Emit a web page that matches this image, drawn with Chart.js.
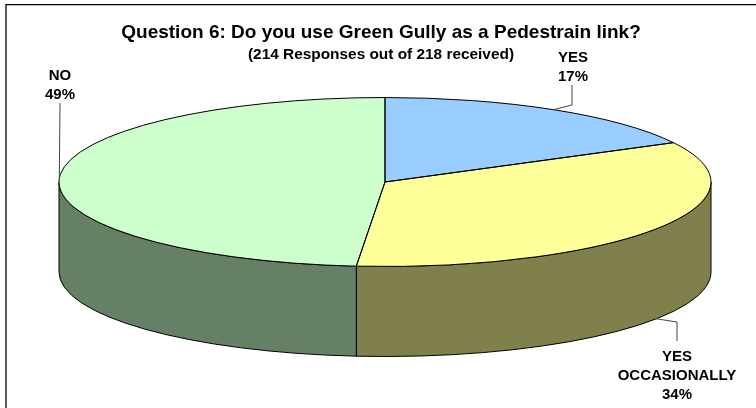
<!DOCTYPE html>
<html>
<head>
<meta charset="utf-8">
<title>Question 6</title>
<script src="https://cdn.jsdelivr.net/npm/chart.js@4"></script>
<style>
    html, body { margin: 0; padding: 0; background: #fff; }
    canvas { display: block; }
</style>
</head>
<body>
<canvas id="pieChart" width="756" height="408"></canvas>
<script>
const categories = ["YES", "YES OCCASIONALLY", "NO"];
const responses = [37, 73, 104];
const topColors = ["#99CCFF", "#FFFF99", "#CCFFCC"];
const wallColors = ["#4D6680", "#80804D", "#668066"];
const titleText = "Question 6: Do you use Green Gully as a Pedestrain link?";
const subtitleText = "(214 Responses out of 218 received)";

// label lines per slice, and the bend of each leader line
const labelLines = [["YES"], ["YES", "OCCASIONALLY"], ["NO"]];
const labelCenters = [[573, 58], [677, 357], [60, 76]];
const leaderBends = [[[572, 105], [572, 85]], [[677, 322], [677, 341]], [[60, 103]]];

// the flattened pie on the page
const ellipse = { x: 385, y: 182, rx: 326, ry: 84.5, depth: 90 };

function edgePoint(angle, drop) {
    return [
        ellipse.x + ellipse.rx * Math.cos(angle),
        ellipse.y + ellipse.ry * Math.sin(angle) + drop
    ];
}

const flatPie = {
    id: "flatPie",
    beforeDraw(chart) {
        // only the top and left sides of the frame show in the picture
        const ctx = chart.ctx;
        ctx.save();
        ctx.strokeStyle = "#000";
        ctx.lineWidth = 1.3;
        ctx.beginPath();
        ctx.moveTo(6, 408);
        ctx.lineTo(6, 4.6);
        ctx.lineTo(756, 4.6);
        ctx.stroke();
        ctx.restore();
    },
    beforeDatasetsDraw(chart) {
        const ctx = chart.ctx;
        const arcs = chart.getDatasetMeta(0).data;

        // side wall, front half only
        ctx.save();
        ctx.strokeStyle = "#000";
        ctx.lineWidth = 1;
        arcs.forEach((arc, i) => {
            const from = Math.max(arc.startAngle, 0);
            const to = Math.min(arc.endAngle, Math.PI);
            if (from >= to) return;
            ctx.beginPath();
            ctx.ellipse(ellipse.x, ellipse.y, ellipse.rx, ellipse.ry, 0, from, to);
            ctx.ellipse(ellipse.x, ellipse.y + ellipse.depth, ellipse.rx, ellipse.ry, 0, to, from, true);
            ctx.closePath();
            ctx.fillStyle = wallColors[i];
            ctx.fill();
            ctx.stroke();
        });
        ctx.restore();

        // squash the round pie into the ellipse while the library draws it
        const r = arcs[0].outerRadius;
        ctx.save();
        ctx.translate(ellipse.x, ellipse.y);
        ctx.scale(ellipse.rx / r, ellipse.ry / r);
        ctx.translate(-arcs[0].x, -arcs[0].y);
    },
    afterDatasetsDraw(chart) {
        const ctx = chart.ctx;
        const arcs = chart.getDatasetMeta(0).data;
        ctx.restore();

        // outlines go here so the scale does not stretch them
        ctx.save();
        ctx.strokeStyle = "#000";
        ctx.lineWidth = 1;
        arcs.forEach(arc => {
            ctx.beginPath();
            ctx.moveTo(ellipse.x, ellipse.y);
            ctx.ellipse(ellipse.x, ellipse.y, ellipse.rx, ellipse.ry, 0, arc.startAngle, arc.endAngle);
            ctx.closePath();
            ctx.stroke();
        });

        const total = responses.reduce((a, b) => a + b, 0);
        arcs.forEach((arc, i) => {
            const mid = (arc.startAngle + arc.endAngle) / 2;
            const drop = Math.sin(mid) > 0 ? ellipse.depth : 0;
            const start = edgePoint(mid, drop);

            ctx.strokeStyle = "#444";
            ctx.beginPath();
            ctx.moveTo(start[0], start[1]);
            leaderBends[i].forEach(p => ctx.lineTo(p[0], p[1]));
            ctx.stroke();

            const lines = labelLines[i].concat(Math.round(responses[i] / total * 100) + "%");
            ctx.fillStyle = "#000";
            ctx.font = "bold 15px 'Liberation Sans'";
            ctx.textAlign = "center";
            ctx.textBaseline = "middle";
            lines.forEach((line, n) => {
                ctx.fillText(line, labelCenters[i][0], labelCenters[i][1] + n * 19);
            });
        });
        ctx.restore();
    }
};

Chart.defaults.font.family = "'Liberation Sans', Arial, sans-serif";

new Chart(document.getElementById("pieChart").getContext("2d"), {
    type: "pie",
    data: {
        labels: categories,
        datasets: [{
            data: responses,
            backgroundColor: topColors,
            borderWidth: 0,
            clip: false
        }]
    },
    options: {
        responsive: false,
        animation: false,
        layout: { padding: { left: 6 } },
        plugins: {
            legend: { display: false },
            tooltip: { enabled: false },
            title: {
                display: true,
                text: titleText,
                color: "#000",
                font: { size: 19, weight: "bold" },
                padding: { top: 21, bottom: 2 }
            },
            subtitle: {
                display: true,
                text: subtitleText,
                color: "#000",
                font: { size: 15.4, weight: "bold" },
                padding: { top: 0, bottom: 0 }
            }
        }
    },
    plugins: [flatPie]
});
</script>
</body>
</html>
